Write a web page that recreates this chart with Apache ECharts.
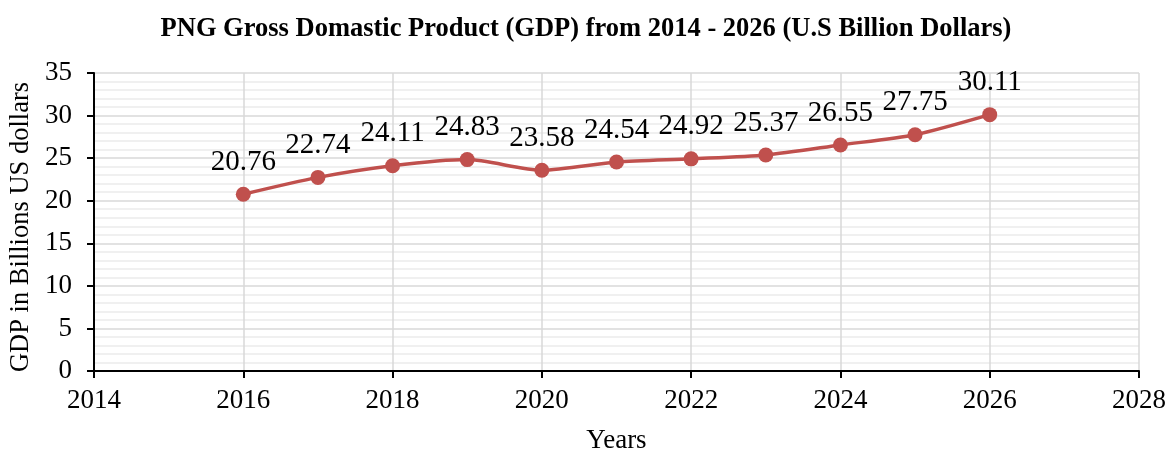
<!DOCTYPE html>
<html><head><meta charset="utf-8">
<script src="https://cdn.jsdelivr.net/npm/echarts@6/dist/echarts.min.js"></script>
<style>html,body{margin:0;padding:0;background:#fff}#c{width:1172px;height:452px}</style>
</head><body><div id="c"></div>
<script>
const years = [2016, 2017, 2018, 2019, 2020, 2021, 2022, 2023, 2024, 2025, 2026];
const gdp = [20.76, 22.74, 24.11, 24.83, 23.58, 24.54, 24.92, 25.37, 26.55, 27.75, 30.11];
const titleText = 'PNG Gross Domastic Product (GDP) from 2014 - 2026 (U.S Billion Dollars)';
const xName = 'Years';
const yName = 'GDP in Billions US dollars';
const F = '"Liberation Serif", "Times New Roman", serif';

const chart = echarts.init(document.getElementById('c'), null, {renderer: 'canvas'});
chart.setOption({
  animation: false,
  backgroundColor: '#fff',
  title: {
    text: titleText, left: 'center', top: 11,
    textStyle: {fontFamily: F, fontSize: 26.5, fontWeight: 'bold', color: '#000'}
  },
  grid: {left: 94, right: 33, top: 73, bottom: 81, containLabel: false, outerBoundsMode: 'none'},
  xAxis: {
    type: 'value', min: 2014, max: 2028, interval: 2,
    name: xName, nameLocation: 'middle', nameGap: 56,
    nameTextStyle: {fontFamily: F, fontSize: 27, color: '#000'},
    axisLine: {show: true, onZero: false, lineStyle: {color: '#000', width: 2}},
    axisTick: {show: true, length: 7, lineStyle: {color: '#000', width: 2}},
    axisLabel: {fontFamily: F, fontSize: 27, color: '#000', margin: 16, formatter: v => String(v)},
    splitLine: {show: true, lineStyle: {color: '#d9d9d9', width: 1.5}}
  },
  yAxis: {
    type: 'value', min: 0, max: 35, interval: 5,
    name: yName, nameLocation: 'middle', nameGap: 59, nameRotate: 90,
    nameTextStyle: {fontFamily: F, fontSize: 26.5, color: '#000', padding: [0, 10, 0, 0]},
    axisLine: {show: true, lineStyle: {color: '#000', width: 2}},
    axisTick: {show: true, length: 7, lineStyle: {color: '#000', width: 2}},
    axisLabel: {fontFamily: F, fontSize: 27, color: '#000', margin: 22},
    splitLine: {show: true, lineStyle: {color: '#d9d9d9', width: 1.5}},
    minorTick: {show: false, splitNumber: 5},
    minorSplitLine: {show: true, lineStyle: {color: '#ececec', width: 1.5}}
  },
  series: [{
    type: 'line',
    data: years.map((y, i) => [y, gdp[i]]),
    smooth: 0.25,
    symbol: 'circle', symbolSize: 15,
    lineStyle: {color: '#C0504D', width: 3.5},
    itemStyle: {color: '#C0504D'},
    label: {
      show: true, position: 'top', distance: 10,
      fontFamily: F, fontSize: 29, color: '#000',
      formatter: p => p.value[1].toFixed(2)
    }
  }]
});
</script></body></html>
